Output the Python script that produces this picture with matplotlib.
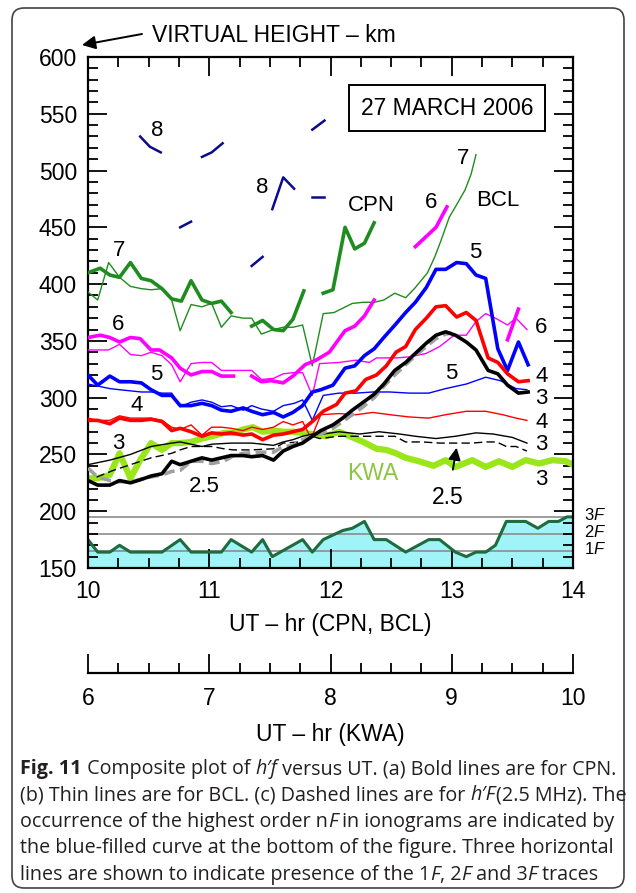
"""Composite h'f versus UT plot, 27 March 2006 (CPN, BCL, KWA)."""
import matplotlib
matplotlib.use('Agg')
import matplotlib.pyplot as plt
from matplotlib.patches import FancyBboxPatch
from matplotlib.ticker import MultipleLocator

plt.rcParams.update({
    'font.family': ['Liberation Sans', 'DejaVu Sans'],
    'font.size': 16.5,
    'mathtext.fontset': 'custom',
    'mathtext.rm': 'Liberation Sans',
    'mathtext.it': 'Liberation Sans:italic',
})

# ---------- data (UT hours, virtual height km) ----------
# CPN, order 7 (bold green), three pieces
cpn7a_t = [10.00, 10.10, 10.18, 10.26, 10.35, 10.44, 10.52, 10.61, 10.69, 10.77, 10.85, 10.94, 11.02, 11.10, 11.18]
cpn7a_h = [410, 414, 408, 406, 419, 405, 403, 396, 387, 385, 403, 386, 383, 385, 375]
cpn7b_t = [11.35, 11.44, 11.53, 11.61, 11.69, 11.78]
cpn7b_h = [363, 368, 360, 359, 369, 394]
cpn7c_t = [11.94, 12.02, 12.12, 12.20, 12.28, 12.36]
cpn7c_h = [392, 395, 450, 431, 436, 454]

# BCL, order 7 (thin green)
bcl7_t = [10.00, 10.08, 10.17, 10.26, 10.35, 10.44, 10.52, 10.61, 10.69, 10.76, 10.85, 10.94, 11.02, 11.10,
          11.18, 11.28, 11.35, 11.43, 11.53, 11.61, 11.69, 11.77, 11.85, 11.94, 12.03, 12.18, 12.27, 12.36,
          12.44, 12.53, 12.62, 12.70, 12.80, 12.86, 12.91, 12.98, 13.03, 13.11, 13.16, 13.20]
bcl7_h = [393, 386, 419, 406, 398, 396, 395, 396, 386, 359, 382, 380, 383, 362,
          372, 370, 370, 356, 360, 362, 362, 364, 328, 374, 375, 383, 384, 384,
          386, 392, 388, 397, 410, 424, 438, 459, 468, 483, 497, 514]

# CPN, order 6 (bold magenta)
cpn6a_t = [10.00, 10.10, 10.18, 10.26, 10.35, 10.43, 10.52, 10.59, 10.69, 10.76, 10.85, 10.94, 11.02, 11.10, 11.20]
cpn6a_h = [353, 355, 353, 349, 353, 352, 342, 342, 335, 326, 320, 323, 323, 319, 319]
cpn6b_t = [11.35, 11.43, 11.51, 11.61, 11.69, 11.79, 11.88, 11.99, 12.12, 12.20, 12.28, 12.36]
cpn6b_h = [319, 314, 315, 313, 319, 329, 333, 340, 359, 363, 372, 386]
cpn6c_t = [12.70, 12.87, 12.96]
cpn6c_h = [433, 450, 468]
cpn6d_t = [13.46, 13.55]
cpn6d_h = [351, 378]

# BCL, order 6 (thin magenta)
bcl6_t = [10.00, 10.08, 10.17, 10.26, 10.35, 10.44, 10.52, 10.61, 10.69, 10.76, 10.85, 10.94, 11.02, 11.10,
          11.20, 11.28, 11.35, 11.43, 11.53, 11.61, 11.69, 11.77, 11.85, 11.91, 12.07, 12.21, 12.32, 12.38,
          12.54, 12.66, 12.79, 12.90, 13.02, 13.12, 13.20, 13.28, 13.36, 13.46, 13.53, 13.62]
bcl6_h = [342, 342, 342, 347, 338, 337, 340, 337, 329, 314, 330, 331, 331, 324,
          324, 324, 324, 316, 317, 321, 322, 322, 302, 330, 331, 333, 331, 335,
          335, 336, 339, 345, 355, 355, 367, 374, 370, 364, 370, 360]

# CPN, order 5 (bold blue)
cpn5_t = [10.00, 10.08, 10.18, 10.26, 10.35, 10.44, 10.52, 10.61, 10.69, 10.76, 10.85, 10.94, 11.02, 11.10,
          11.18, 11.28, 11.35, 11.44, 11.53, 11.61, 11.69, 11.77, 11.85, 11.92, 12.02, 12.12, 12.20, 12.28,
          12.36, 12.44, 12.54, 12.62, 12.70, 12.79, 12.87, 12.95, 13.04, 13.12, 13.20, 13.28, 13.38, 13.46,
          13.55, 13.63]
cpn5_h = [320, 311, 319, 314, 314, 313, 307, 302, 302, 293, 293, 295, 293, 289,
          288, 291, 288, 285, 287, 283, 287, 293, 305, 307, 311, 326, 328, 337,
          343, 353, 365, 375, 384, 397, 413, 413, 419, 418, 408, 405, 343, 324,
          349, 329]

# BCL, order 5 (thin blue)
bcl5_t = [10.00, 10.18, 10.26, 10.44, 10.52, 10.61, 10.69, 10.76, 10.85, 10.94, 11.02, 11.10, 11.18, 11.28,
          11.35, 11.43, 11.53, 11.61, 11.70, 11.77, 11.85, 11.94, 12.07, 12.21, 12.35, 12.49, 12.65, 12.81,
          12.95, 13.12, 13.28, 13.40, 13.53, 13.62]
bcl5_h = [312, 308, 307, 305, 305, 304, 304, 292, 296, 298, 296, 292, 293, 289,
          293, 290, 288, 293, 295, 298, 280, 302, 304, 304, 305, 305, 304, 304,
          308, 312, 318, 315, 308, 307]

# CPN, order 4 (bold red)
cpn4_t = [10.00, 10.08, 10.18, 10.26, 10.35, 10.44, 10.52, 10.61, 10.69, 10.76, 10.85, 10.94, 11.02, 11.10,
          11.18, 11.28, 11.35, 11.44, 11.53, 11.61, 11.69, 11.77, 11.85, 11.94, 12.05, 12.12, 12.21, 12.29,
          12.38, 12.46, 12.54, 12.62, 12.70, 12.79, 12.87, 12.95, 13.04, 13.12, 13.20, 13.30, 13.38, 13.46,
          13.55, 13.63]
cpn4_h = [280, 280, 277, 282, 280, 280, 281, 279, 271, 273, 270, 266, 269, 268,
          269, 267, 268, 263, 267, 268, 270, 272, 279, 288, 294, 304, 306, 316,
          320, 328, 340, 345, 360, 370, 380, 381, 371, 375, 368, 335, 331, 321,
          314, 315]

# BCL, order 4 (thin red)
bcl4_t = [10.00, 10.08, 10.18, 10.26, 10.35, 10.44, 10.52, 10.61, 10.69, 10.76, 10.85, 10.94, 11.02, 11.10,
          11.18, 11.28, 11.35, 11.44, 11.53, 11.61, 11.69, 11.77, 11.84, 11.92, 12.07, 12.21, 12.35, 12.49,
          12.65, 12.81, 12.95, 13.12, 13.28, 13.42, 13.53, 13.62]
bcl4_h = [282, 280, 280, 284, 282, 282, 282, 280, 274, 272, 276, 267, 274, 274,
          273, 271, 274, 272, 274, 279, 276, 279, 264, 285, 286, 285, 287, 285,
          283, 282, 285, 288, 288, 285, 282, 280]

# CPN, order 3 (bold black)
cpn3_t = [10.00, 10.08, 10.18, 10.26, 10.35, 10.44, 10.52, 10.61, 10.69, 10.76, 10.85, 10.94, 11.02, 11.10,
          11.18, 11.28, 11.35, 11.44, 11.53, 11.61, 11.69, 11.77, 11.85, 11.92, 12.02, 12.10, 12.18, 12.27,
          12.36, 12.44, 12.53, 12.62, 12.70, 12.79, 12.87, 12.95, 13.03, 13.12, 13.20, 13.30, 13.38, 13.46,
          13.55, 13.63]
cpn3_h = [227, 223, 223, 227, 225, 228, 231, 233, 244, 241, 244, 247, 245, 247,
          249, 249, 248, 249, 245, 253, 257, 260, 266, 271, 276, 282, 289, 296,
          303, 312, 324, 331, 339, 348, 355, 358, 355, 349, 342, 324, 321, 311,
          304, 305]

# BCL, order 3 (thin black)
bcl3_t = [10.00, 10.18, 10.35, 10.52, 10.69, 10.76, 10.94, 11.02, 11.18, 11.35, 11.53, 11.61, 11.69, 11.77,
          11.85, 11.94, 12.07, 12.24, 12.40, 12.57, 12.70, 12.87, 13.03, 13.20, 13.34, 13.50, 13.62]
bcl3_h = [241, 245, 250, 257, 260, 261, 257, 259, 260, 260, 258, 261, 263, 266,
          268, 268, 270, 268, 270, 268, 266, 264, 266, 269, 268, 265, 260]

# h'F at 2.5 MHz: CPN (grey dashed, bold) and BCL (black dashed, thin)
cpn25_t = [10.00, 10.08, 10.18, 10.26, 10.36, 10.46, 10.61, 10.69, 10.76, 10.85, 10.94, 11.02, 11.12, 11.20,
           11.28, 11.44, 11.53, 11.61, 11.69, 11.77, 11.85, 11.94, 12.02, 12.10, 12.18, 12.27, 12.36, 12.44,
           12.53, 12.62, 12.70, 12.79, 12.87, 12.95, 13.00]
cpn25_h = [238, 230, 227, 226, 226, 229, 232, 235, 236, 244, 244, 242, 244, 249,
           251, 252, 252, 257, 258, 263, 266, 269, 273, 279, 285, 292, 300, 310,
           320, 329, 337, 345, 352, 356, 357]
bcl25_t = [10.00, 10.07, 10.21, 10.35, 10.52, 10.69, 10.76, 10.85, 11.02, 11.12, 11.20, 11.35, 11.53, 11.61,
           11.75, 11.85, 11.91, 12.07, 12.24, 12.40, 12.53, 12.62, 12.76, 12.90, 13.03, 13.17, 13.28, 13.37,
           13.45, 13.53, 13.62]
bcl25_h = [238, 230, 236, 241, 247, 251, 254, 257, 257, 255, 254, 254, 255, 260,
           261, 266, 264, 266, 266, 266, 266, 261, 261, 260, 260, 260, 261, 261,
           257, 257, 253]

# KWA, order 3 (KWA time axis, UT 6-10)
kwa_t = [6.00, 6.08, 6.18, 6.26, 6.35, 6.43, 6.52, 6.61, 6.69, 6.76, 6.85, 6.94, 7.02, 7.12, 7.20,
         7.28, 7.36, 7.44, 7.53, 7.61, 7.69, 7.77, 7.85, 7.96, 8.02, 8.07, 8.16, 8.27, 8.38, 8.46,
         8.54, 8.62, 8.73, 8.85, 8.95, 9.03, 9.17, 9.28, 9.39, 9.50, 9.61, 9.72, 9.83, 9.94, 10.00]
kwa_h = [229, 229, 232, 251, 229, 245, 260, 254, 260, 260, 261, 264, 266, 269, 269,
         272, 274, 270, 271, 270, 270, 269, 268, 266, 268, 270, 266, 261, 255, 254,
         251, 247, 244, 240, 245, 239, 245, 239, 244, 239, 245, 242, 245, 244, 241]

# CPN order 8, scattered short pieces
cpn8a_t, cpn8a_h = [10.43, 10.51, 10.60], [530, 521, 516]
cpn8b_t, cpn8b_h = [10.94, 11.02, 11.11], [512, 516, 524]
cpn8c_t, cpn8c_h = [11.85, 11.95], [536, 544]
cpn8d_t, cpn8d_h = [11.52, 11.61, 11.70], [466, 494, 484]
cpn8e_t, cpn8e_h = [11.85, 11.95], [477, 477]
cpn8f_t, cpn8f_h = [10.76, 10.85], [450, 455]
cpn8g_t, cpn8g_h = [11.35, 11.44], [416, 424]

# highest order nF seen in ionograms (blue-filled curve)
nf_t = [10.00, 10.08, 10.18, 10.26, 10.35, 10.61, 10.76, 10.85, 11.10, 11.18, 11.35, 11.44, 11.52, 11.77,
        11.85, 11.94, 12.02, 12.10, 12.18, 12.28, 12.36, 12.46, 12.62, 12.81, 12.90, 13.03, 13.12, 13.20,
        13.28, 13.36, 13.45, 13.61, 13.71, 13.80, 13.88, 13.95, 14.00]
nf_h = [175, 164, 164, 170, 164, 164, 175, 164, 164, 175, 164, 175, 160, 175,
        164, 175, 179, 183, 185, 191, 175, 175, 164, 175, 175, 164, 160, 164,
        164, 170, 191, 191, 185, 191, 191, 195, 195]
trace_levels = [165, 180, 195]
trace_names = ['1', '2', '3']

# ---------- figure ----------
W, H = 636, 893
fig = plt.figure(figsize=(W / 100, H / 100), dpi=100)


def box(x0, y0, x1, y1):
    return [x0 / W, 1 - y1 / H, (x1 - x0) / W, (y1 - y0) / H]


ax = fig.add_axes(box(88, 57, 573, 568))
ax.set_xlim(10, 14)
ax.set_ylim(150, 600)

GREEN, MAG, BLUE, RED = '#1f8c1f', '#ff00ff', '#0000ff', '#ff0000'
BOLD, THIN = 2.6, 1.0

# bottom: nF curve and trace levels
ax.fill_between(nf_t, 150, nf_h, color='#a0f4f7', lw=0, zorder=1)
for lev in trace_levels:
    ax.axhline(lev, color='#8c8c8c', lw=1.2, zorder=1.5)
ax.plot(nf_t, nf_h, color='#1f6b3f', lw=2.2, zorder=2)

# KWA
ax.plot([t + 4 for t in kwa_t], kwa_h, color='#99e619', lw=4.5, zorder=1.8)

# BCL thin lines
ax.plot(bcl7_t, bcl7_h, color=GREEN, lw=THIN, zorder=3)
ax.plot(bcl6_t, bcl6_h, color=MAG, lw=THIN, zorder=3)
ax.plot(bcl5_t, bcl5_h, color=BLUE, lw=THIN, zorder=3)
ax.plot(bcl4_t, bcl4_h, color=RED, lw=THIN, zorder=3)
ax.plot(bcl3_t, bcl3_h, color='black', lw=THIN, zorder=3)
ax.plot(bcl25_t, bcl25_h, color='black', lw=THIN, dashes=(6, 3), zorder=3)

# CPN bold lines
for t, h in [(cpn7a_t, cpn7a_h), (cpn7b_t, cpn7b_h), (cpn7c_t, cpn7c_h)]:
    ax.plot(t, h, color=GREEN, lw=BOLD, zorder=4)
for t, h in [(cpn6a_t, cpn6a_h), (cpn6b_t, cpn6b_h), (cpn6c_t, cpn6c_h), (cpn6d_t, cpn6d_h)]:
    ax.plot(t, h, color=MAG, lw=BOLD, zorder=4)
ax.plot(cpn5_t, cpn5_h, color=BLUE, lw=BOLD, zorder=4)
ax.plot(cpn4_t, cpn4_h, color=RED, lw=BOLD, zorder=4)
ax.plot(cpn25_t, cpn25_h, color='#a0a0a0', lw=BOLD, dashes=(3, 1.5), zorder=4)
ax.plot(cpn3_t, cpn3_h, color='black', lw=BOLD, zorder=4.5)
for t, h in [(cpn8a_t, cpn8a_h), (cpn8b_t, cpn8b_h), (cpn8c_t, cpn8c_h), (cpn8d_t, cpn8d_h),
             (cpn8e_t, cpn8e_h), (cpn8f_t, cpn8f_h), (cpn8g_t, cpn8g_h)]:
    ax.plot(t, h, color='#0a0a8c', lw=1.8, zorder=4)

# order labels
labels = [
    ('8', 10.57, 535), ('8', 11.44, 485), ('7', 10.26, 430), ('6', 10.25, 364),
    ('5', 10.56, 320), ('4', 10.40, 293), ('3', 10.25, 260), ('2.5', 10.96, 222),
    ('CPN', 12.34, 469), ('6', 12.83, 472), ('7', 13.09, 511), ('BCL', 13.38, 474),
    ('5', 13.19, 428), ('6', 13.74, 362), ('4', 13.74, 319), ('3', 13.74, 299),
    ('5', 13.00, 321), ('4', 13.74, 278), ('3', 13.74, 259), ('3', 13.74, 228),
]
for s, x, y in labels:
    ax.text(x, y, s, fontsize=16, ha='center', va='center', zorder=6)
ax.text(12.35, 233, 'KWA', color='#8cc63f', ha='center', va='center', zorder=6)
ax.annotate('2.5', xy=(13.04, 256), xytext=(12.97, 212), ha='center', va='center',
            arrowprops=dict(arrowstyle='-|>', color='black', lw=1.4,
                            mutation_scale=18, shrinkA=10, shrinkB=0), zorder=6)
ax.text(12.96, 555, '27 MARCH 2006', ha='center', va='center', zorder=6,
        bbox=dict(boxstyle='square,pad=0.5', fc='white', ec='black', lw=1.4))
for lev, n in zip(trace_levels, trace_names):
    ax.text(14.09, lev + 2, n + r'$\mathit{F}$', fontsize=12, ha='left', va='center',
            clip_on=False)

ax.xaxis.set_major_locator(MultipleLocator(1))
ax.xaxis.set_minor_locator(MultipleLocator(0.25))
ax.yaxis.set_major_locator(MultipleLocator(50))
ax.yaxis.set_minor_locator(MultipleLocator(10))
ax.tick_params(which='both', direction='in', top=True, right=True, width=1.3)
ax.tick_params(which='major', length=14)
ax.tick_params(which='minor', length=7)
ax.tick_params(axis='x', pad=9)
ax.tick_params(axis='y', pad=8)
for sp in ax.spines.values():
    sp.set_linewidth(1.6)

# KWA time ruler
ax2 = fig.add_axes(box(88, 638, 573, 673))
ax2.patch.set_visible(False)
for side in ['top', 'left', 'right']:
    ax2.spines[side].set_visible(False)
ax2.spines['bottom'].set_linewidth(1.6)
ax2.set_yticks([])
ax2.set_xlim(6, 10)
ax2.xaxis.set_major_locator(MultipleLocator(1))
ax2.xaxis.set_minor_locator(MultipleLocator(0.25))
ax2.tick_params(which='both', direction='in', width=1.3, pad=10)
ax2.tick_params(which='major', length=14)
ax2.tick_params(which='minor', length=7)

fig.text(330.5 / W, 1 - 625 / H, 'UT – hr (CPN, BCL)', ha='center', va='center')
fig.text(330.5 / W, 1 - 735 / H, 'UT – hr (KWA)', ha='center', va='center')
fig.text(152 / W, 1 - 35 / H, 'VIRTUAL HEIGHT – km', ha='left', va='center')
ax.annotate('', xy=(82, H - 45), xytext=(142, H - 34), xycoords='figure pixels',
            textcoords='figure pixels',
            arrowprops=dict(arrowstyle='-|>', color='black', lw=1.4, mutation_scale=20,
                            shrinkA=0, shrinkB=0))

# caption, drawn as runs of differently styled text
renderer = fig.canvas.get_renderer()
CAP = ['Open Sans', 'DejaVu Sans']


def runs(x, y, parts, size=14.2):
    x = x / W
    for s, style in parts:
        kw = {}
        if style == 'b':
            kw['fontweight'] = 'bold'
        elif style == 'i':
            kw['fontstyle'] = 'italic'
        t = fig.text(x, 1 - y / H, s, fontsize=size, family=CAP, va='baseline',
                     ha='left', color='#231f20', **kw)
        x += t.get_window_extent(renderer).width / fig.bbox.width


cap_lines = [
    [('Fig. 11', 'b'), (' Composite plot of ', ''), ('h′f', 'i'),
     (' versus UT. (a) Bold lines are for CPN.', '')],
    [('(b) Thin lines are for BCL. (c) Dashed lines are for ', ''), ('h′F', 'i'),
     ('(2.5 MHz). The', '')],
    [('occurrence of the highest order n', ''), ('F', 'i'), (' in ionograms are indicated by', '')],
    [('the blue-filled curve at the bottom of the figure. Three horizontal', '')],
    [('lines are shown to indicate presence of the 1', ''), ('F', 'i'), (', 2', ''), ('F', 'i'),
     (' and 3', ''), ('F', 'i'), (' traces', '')],
]
for i, parts in enumerate(cap_lines):
    runs(20, 774 + 26.5 * i, parts)

# rounded frame around the whole figure
fig.patches.append(FancyBboxPatch((12 / 100, 5 / 100), 612 / 100, 880 / 100,
                                  boxstyle='round,pad=0,rounding_size=0.12',
                                  transform=fig.dpi_scale_trans, fc='none',
                                  ec='#444444', lw=1.2))

fig.savefig('out.png', dpi=100)
